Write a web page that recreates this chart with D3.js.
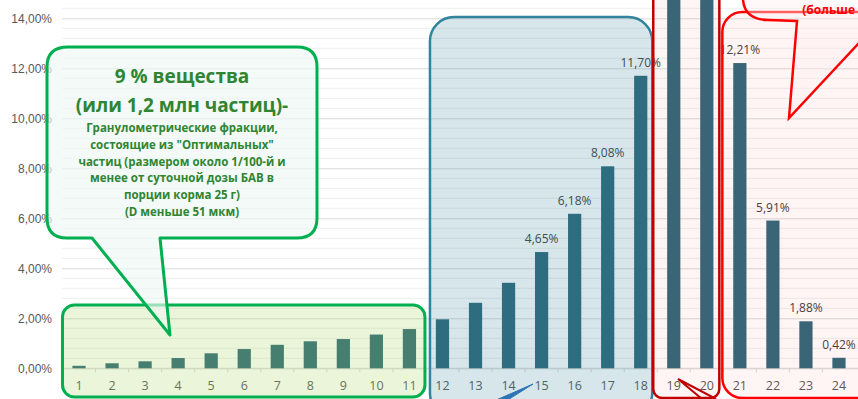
<!DOCTYPE html>
<html>
<head>
<meta charset="utf-8">
<script src="https://cdn.jsdelivr.net/npm/d3@7"></script>
<style>
  body { margin: 0; background: #fff; }
  svg { display: block; font-family: "Open Sans", "Noto Sans", sans-serif; }
</style>
</head>
<body>
<svg id="chart" width="858" height="399"></svg>
<script>
// fractions 1..24, share of substance (%)
var categories = ["1","2","3","4","5","6","7","8","9","10","11","12",
                  "13","14","15","16","17","18","19","20","21","22","23","24"];
var values = [0.10, 0.20, 0.28, 0.41, 0.60, 0.77, 0.94, 1.08, 1.17, 1.35, 1.57, 1.96,
              2.62, 3.42, 4.65, 6.18, 8.08, 11.70, 16.90, 15.60, 12.21, 5.91, 1.88, 0.42];
// labels of 19 and 20 sit above the visible part of the chart
var labelled = ["15","16","17","18","21","22","23","24"];
var yTicks = [0, 2, 4, 6, 8, 10, 12, 14];
var calloutTitle = ["9 % вещества", "(или 1,2 млн частиц)-"];
var calloutText = ["Гранулометрические фракции,",
                   "состоящие из \"Оптимальных\"",
                   "частиц (размером около 1/100-й и",
                   "менее от суточной дозы БАВ в",
                   "порции корма 25 г)",
                   "(D меньше 51 мкм)"];

var svg = d3.select("#chart");
var width = +svg.attr("width"), height = +svg.attr("height");

var ru = d3.formatLocale({decimal: ",", thousands: " ", grouping: [3], currency: ["", ""]});
var pct = function(v) { return ru.format(".2f")(v) + "%"; };

var x = d3.scaleBand()
    .domain(categories)
    .range([62.5, 855.5])
    .paddingInner(0.6)
    .paddingOuter(0.3);

var y = d3.scaleLinear()
    .domain([0, 14])
    .range([368.3, 18.3]);

var step = x.step();
function bandLeft(c) { return x(c) - step * 0.3; }
function bandRight(c) { return x(c) + x.bandwidth() + step * 0.3; }

// minor gridlines every 0.4%
var minor = d3.range(0, 15.2, 0.4).filter(function(v) { return Math.abs(v / 2 - Math.round(v / 2)) > 0.01; });
svg.append("g")
  .selectAll("line")
  .data(minor)
  .enter().append("line")
    .attr("x1", 62).attr("x2", width)
    .attr("y1", function(d) { return y(d); })
    .attr("y2", function(d) { return y(d); })
    .attr("stroke", "#eeeeee")
    .attr("stroke-width", 1);

// y axis with major gridlines
svg.append("g")
    .attr("transform", "translate(62,0)")
    .call(d3.axisLeft(y).tickValues(yTicks).tickSize(-(width - 62)).tickFormat(pct).tickPadding(10))
    .call(function(g) {
      g.select(".domain").remove();
      g.selectAll(".tick line").attr("stroke", "#d9d9d9");
      g.selectAll(".tick text").attr("fill", "#595959").attr("font-size", 12);
    });

// x axis
var xAxis = svg.append("g")
    .attr("transform", "translate(0," + y(0) + ")");
xAxis.append("line")
    .attr("x1", 62).attr("x2", width)
    .attr("stroke", "#d9d9d9");
xAxis.selectAll("line.tk")
  .data(categories)
  .enter().append("line")
    .attr("class", "tk")
    .attr("x1", function(d) { return bandLeft(d); })
    .attr("x2", function(d) { return bandLeft(d); })
    .attr("y1", 0).attr("y2", 4)
    .attr("stroke", "#d9d9d9");
xAxis.selectAll("text")
  .data(categories)
  .enter().append("text")
    .attr("x", function(d) { return x(d) + x.bandwidth() / 2; })
    .attr("y", 22)
    .attr("text-anchor", "middle")
    .attr("fill", "#595959")
    .attr("font-size", 12.5)
    .text(function(d) { return d; });

// bars
svg.append("g")
  .selectAll("rect")
  .data(values)
  .enter().append("rect")
    .attr("x", function(d, i) { return x(categories[i]); })
    .attr("width", x.bandwidth())
    .attr("y", function(d) { return y(d); })
    .attr("height", function(d) { return y(0) - y(d); })
    .attr("fill", "#2d6779");

// data labels
svg.append("g")
  .selectAll("text")
  .data(values.map(function(v, i) { return {c: categories[i], v: v}; })
    .filter(function(d) { return labelled.indexOf(d.c) >= 0; }))
  .enter().append("text")
    .attr("x", function(d) { return x(d.c) + x.bandwidth() / 2; })
    .attr("y", function(d) { return y(d.v) - 9; })
    .attr("text-anchor", "middle")
    .attr("fill", "#404040")
    .attr("font-size", 12)
    .text(function(d) { return pct(d.v); });

// highlight boxes
var boxes = svg.append("g");
boxes.append("rect")
    .attr("x", bandLeft("1")).attr("y", 305)
    .attr("width", bandRight("11") - bandLeft("1") - 1).attr("height", 92)
    .attr("rx", 12)
    .attr("fill", "rgba(160,210,80,0.22)")
    .attr("stroke", "#00b050").attr("stroke-width", 3);

boxes.append("rect")
    .attr("x", bandLeft("12") + 4).attr("y", 17)
    .attr("width", bandRight("18") - bandLeft("12") - 9).attr("height", 400)
    .attr("rx", 24)
    .attr("fill", "rgba(49,132,155,0.2)")
    .attr("stroke", "#31849b").attr("stroke-width", 2.5);

boxes.append("rect")
    .attr("x", bandLeft("19") - 4).attr("y", -30)
    .attr("width", bandRight("20") - bandLeft("19")).attr("height", 428)
    .attr("rx", 9)
    .attr("fill", "rgba(255,90,90,0.06)")
    .attr("stroke", "#c00000").attr("stroke-width", 2.5);

boxes.append("rect")
    .attr("x", bandLeft("21") - 1).attr("y", 12)
    .attr("width", 160).attr("height", 386)
    .attr("rx", 20)
    .attr("fill", "rgba(255,90,90,0.06)")
    .attr("stroke", "#ff0000").attr("stroke-width", 2.5);

// tails of callouts placed below the visible area
svg.append("path")
    .attr("d", "M494,401 L533,384 L506,401 Z")
    .attr("fill", "#2e75b6")
    .attr("stroke", "#2e75b6").attr("stroke-width", 1);
svg.append("path")
    .attr("d", "M678,379 L716,399 M678,379 L702,399")
    .attr("fill", "none")
    .attr("stroke", "#c00000").attr("stroke-width", 2);

// red callout at top right
svg.append("path")
    .attr("d", "M743,-20 L743,0 Q745,20 768,20 L797,21 L789,118 L885,15")
    .attr("fill", "rgba(255,240,240,0.4)")
    .attr("stroke", "#ff0000").attr("stroke-width", 2.5);
svg.append("text")
    .attr("x", 855).attr("y", 14)
    .attr("text-anchor", "end")
    .attr("fill", "#ff0000")
    .attr("font-size", 12)
    .attr("font-weight", "bold")
    .text("(больше");

// green callout
svg.append("path")
    .attr("d", "M68,47 L297,47 Q317,47 317,67 L317,218 Q317,238 297,238 L160,238 L170,335 L92,238 L67,238 Q47,238 47,218 L47,67 Q47,47 68,47 Z")
    .attr("fill", "rgba(236,248,242,0.65)")
    .attr("stroke", "#00b050").attr("stroke-width", 3)
    .attr("stroke-linejoin", "round");

var ct = svg.append("g").attr("text-anchor", "middle").attr("fill", "#2f8532").attr("font-weight", "bold");
ct.selectAll("text.t")
  .data(calloutTitle)
  .enter().append("text")
    .attr("class", "t")
    .attr("x", 182)
    .attr("y", function(d, i) { return 83 + i * 29; })
    .attr("font-size", 19)
    .text(function(d) { return d; });
ct.selectAll("text.s")
  .data(calloutText)
  .enter().append("text")
    .attr("class", "s")
    .attr("x", 182)
    .attr("y", function(d, i) { return 132 + i * 16.8; })
    .attr("font-size", 11.5)
    .text(function(d) { return d; });
</script>
</body>
</html>
